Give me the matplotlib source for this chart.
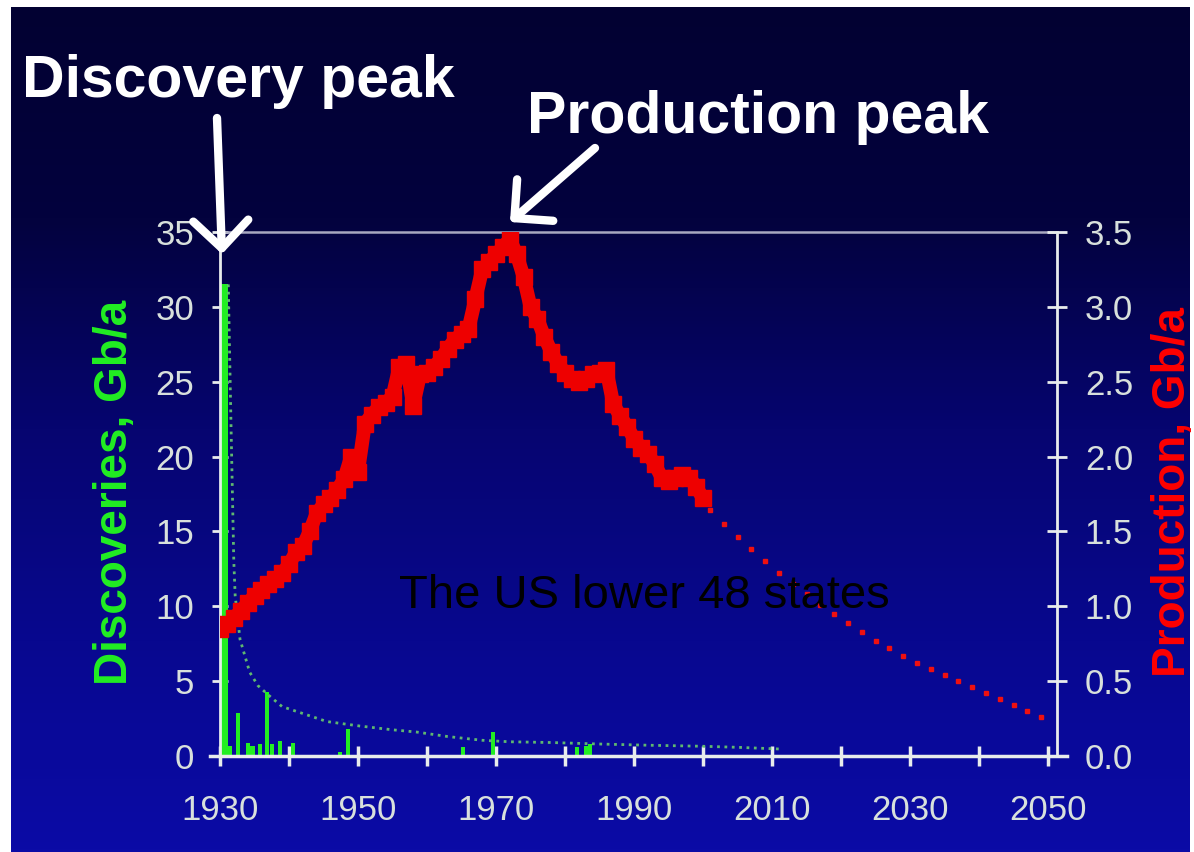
import numpy as np
import matplotlib
matplotlib.use("Agg")
import matplotlib.pyplot as plt
from matplotlib.colors import LinearSegmentedColormap

# Добыча (Gb/a), фактические данные по годам
prod_years = list(range(1930, 2001))
prod_values = [0.85, 0.88, 0.92, 0.97, 1.02, 1.07, 1.11, 1.15, 1.18, 1.22,
               1.28, 1.36, 1.40, 1.50, 1.62, 1.68, 1.72, 1.78, 1.85, 2.00,
               1.90, 2.22, 2.28, 2.33, 2.36, 2.40, 2.60, 2.62, 2.34, 2.55,
               2.56, 2.60, 2.65, 2.72, 2.78, 2.82, 2.85, 3.05, 3.25, 3.30,
               3.35, 3.40, 3.45, 3.35, 3.20, 3.00, 2.92, 2.80, 2.70, 2.62,
               2.56, 2.52, 2.50, 2.52, 2.55, 2.56, 2.58, 2.35, 2.27, 2.20,
               2.12, 2.06, 2.02, 1.95, 1.86, 1.84, 1.86, 1.88, 1.86, 1.80,
               1.72]

# Прогноз добычи
fc_years = list(range(2001, 2050, 2))
fc_values = [1.64, 1.55, 1.46, 1.38, 1.30, 1.22, 1.15, 1.08, 1.01, 0.95,
             0.89, 0.83, 0.77, 0.72, 0.67, 0.62, 0.58, 0.54, 0.50, 0.46,
             0.42, 0.38, 0.34, 0.30, 0.26]

# Открытия (Gb/a)
disc_years = [1930.6, 1931.4, 1932.6, 1934.0, 1934.7, 1935.8, 1936.8, 1937.5,
              1938.7, 1940.6, 1947.4, 1948.5, 1965.2, 1969.6, 1981.7, 1983.0,
              1983.6]
disc_values = [31.5, 0.7, 2.9, 0.9, 0.7, 0.8, 4.3, 0.8,
               1.0, 0.9, 0.3, 1.8, 0.6, 1.6, 0.6, 0.7,
               0.8]

# Сглаженная кривая открытий
avg_years = [1931.2, 1931.6, 1932.0, 1932.2, 1932.9, 1934.3, 1935.5, 1937.2,
             1939, 1941.6, 1945.5, 1950.3, 1955, 1958.5, 1963, 1968, 1972,
             1978, 1985, 1992, 2000, 2005, 2011]
avg_values = [31.5, 22, 13, 10.7, 7.8, 5.6, 4.7, 4.0,
              3.3, 2.9, 2.3, 2.0, 1.75, 1.6, 1.3, 1.05, 0.95,
              0.9, 0.8, 0.72, 0.65, 0.58, 0.47]

x_ticks = list(range(1930, 2051, 10))
x_labels = [str(y) if (y - 1930) % 20 == 0 else "" for y in x_ticks]
left_ticks = [0, 5, 10, 15, 20, 25, 30, 35]
right_ticks = [0.0, 0.5, 1.0, 1.5, 2.0, 2.5, 3.0, 3.5]

W, H = 1194, 852
fig = plt.figure(figsize=(W / 100, H / 100), dpi=100)
fig.patch.set_facecolor("white")

# Фон: градиент от тёмно-синего к синему
bg = fig.add_axes([11 / W, 0, (1190 - 11) / W, (H - 7) / H])
bg.set_axis_off()
cmap = LinearSegmentedColormap.from_list(
    "bg", [(0.0, "#020132"), (0.25, "#03023e"), (0.5, "#060570"),
           (0.75, "#08088f"), (1.0, "#0b0ba6")])
bg.imshow(np.linspace(0, 1, 256)[:, None], aspect="auto", cmap=cmap,
          extent=[0, 1, 0, 1], origin="upper")
bg.set_xlim(0, 1)
bg.set_ylim(0, 1)

tick_col = "#d8e0dc"
tick_font = "Liberation Sans"

ax = fig.add_axes([220 / W, (H - 756) / H, (1057 - 220) / W, (756 - 232) / H])
ax.set_facecolor("none")
ax.set_xlim(1930, 2051.3)
ax.set_ylim(0, 35)

ax.bar(disc_years, disc_values, width=0.6, color="#22ee22", zorder=2)
ax.bar([disc_years[0]], [disc_values[0]], width=1.2, color="#22ee22", zorder=2)
ax.plot(avg_years, avg_values, ":", color="#5fb870", lw=2, zorder=2)

ax.set_xticks(x_ticks)
ax.set_xticklabels(x_labels, fontfamily=tick_font, fontsize=25, color=tick_col)
ax.set_yticks(left_ticks)
ax.set_yticklabels([str(v) for v in left_ticks], fontfamily=tick_font,
                   fontsize=25, color=tick_col)
ax.tick_params(axis="x", direction="inout", length=15, width=2.5,
               color="#e8ecec", pad=20)
ax.tick_params(axis="y", direction="inout", length=11, width=2,
               color="#e8ecec", pad=13)
for side in ["left", "right"]:
    ax.spines[side].set_color("#e8ecec")
    ax.spines[side].set_linewidth(2)
ax.spines["top"].set_color("#a8a8c0")
ax.spines["top"].set_linewidth(1.8)
ax.spines["bottom"].set_visible(False)

# нижняя линия выходит за границы осей
fig.add_artist(plt.Line2D([210 / W, 1067 / W], [(H - 756) / H] * 2,
                          color="#e8ecec", lw=2.5))

ax2 = ax.twinx()
ax2.set_ylim(0, 3.5)
ax2.plot(prod_years, prod_values, "-", color="#ee0000", lw=10, zorder=3,
         solid_capstyle="butt")
ax2.plot(prod_years, prod_values, "s", color="#ee0000", ms=12, zorder=3)
ax2.plot(fc_years, fc_values, "s", color="#ee1010", ms=2.5, lw=0, zorder=3)
ax2.set_yticks(right_ticks)
ax2.set_yticklabels([f"{v:.1f}" for v in right_ticks], fontfamily=tick_font,
                    fontsize=25, color=tick_col)
ax2.tick_params(axis="y", direction="inout", length=14, width=2,
                color="#e8ecec", pad=13)
for sp in ax2.spines.values():
    sp.set_visible(False)

# подписи осей
fig.text(115 / W, (H - 492) / H, "Discoveries, Gb/a", rotation=90,
         color="#22ee22", fontsize=33, fontweight="bold",
         fontfamily="Liberation Sans", ha="center", va="center")
fig.text(1173 / W, (H - 492) / H, "Production, Gb/a", rotation=90,
         color="#ff0000", fontsize=33, fontweight="bold",
         fontfamily="Liberation Sans", ha="center", va="center")

fig.text(22 / W, (H - 97) / H, "Discovery peak", color="white", fontsize=42.5,
         fontweight="bold", fontfamily="Liberation Sans", va="baseline")
fig.text(527 / W, (H - 133) / H, "Production peak", color="white",
         fontsize=42.5, fontweight="bold", fontfamily="Liberation Sans",
         va="baseline")

fig.text(644 / W, (H - 608) / H, "The US lower 48 states", color="black",
         fontsize=34, fontfamily="Liberation Sans", ha="center",
         va="baseline", zorder=10)

# стрелки
arrow = dict(arrowstyle="->, head_length=0.9, head_width=0.9", color="white",
             lw=6, mutation_scale=22, shrinkA=0, shrinkB=0)
fig.add_artist(matplotlib.patches.FancyArrowPatch(
    (217 / W, (H - 118) / H), (222 / W, (H - 254) / H),
    transform=fig.transFigure, **arrow))
fig.add_artist(matplotlib.patches.FancyArrowPatch(
    (595 / W, (H - 148) / H), (510 / W, (H - 222) / H),
    transform=fig.transFigure, **arrow))

fig.savefig("out.png", dpi=100, facecolor=fig.get_facecolor())
